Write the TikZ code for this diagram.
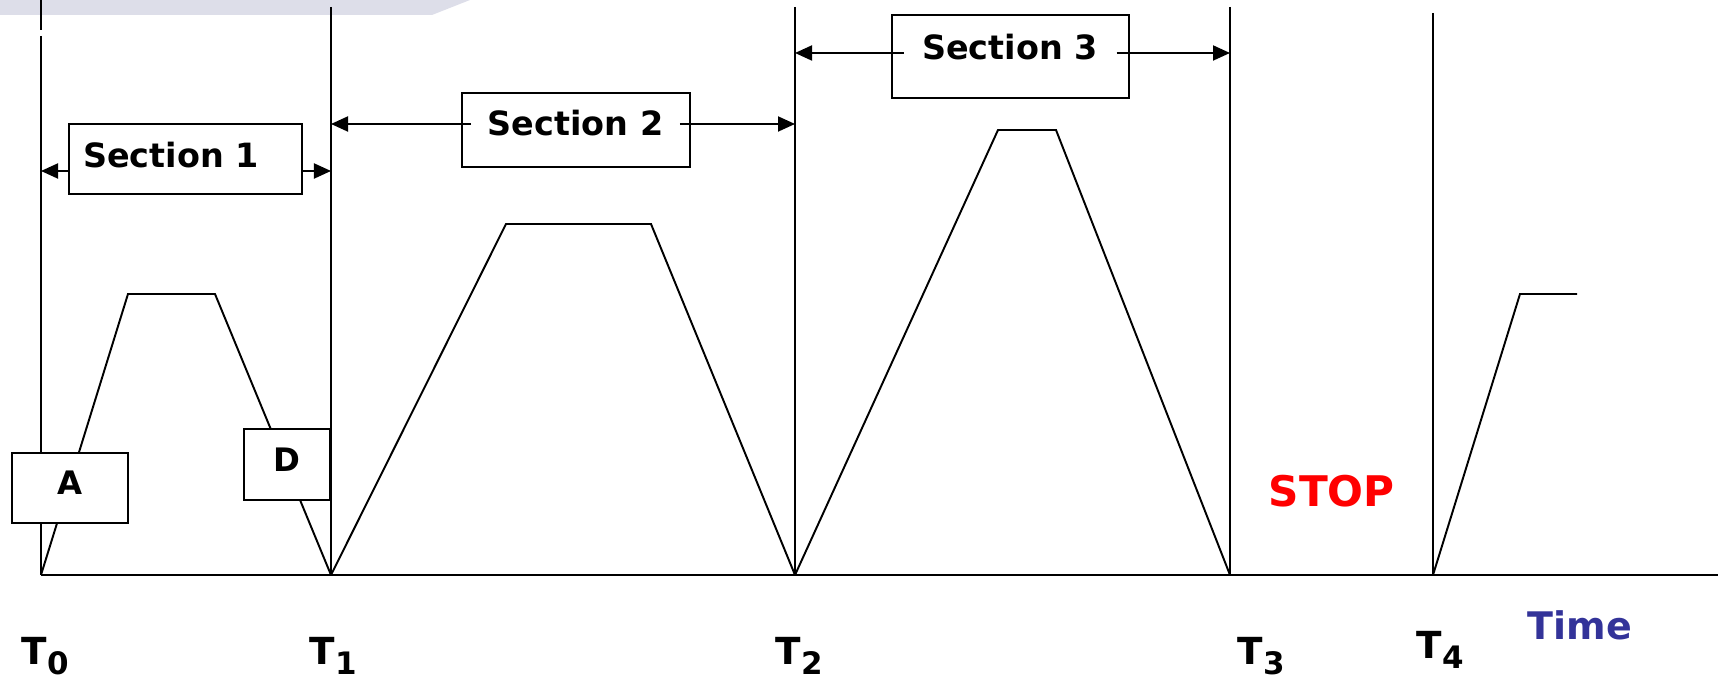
\documentclass[tikz,border=0pt]{standalone}
\usepackage{fontspec}
\setmainfont{DejaVu Sans}
\usetikzlibrary{arrows.meta}

\definecolor{bandgray}{RGB}{221,222,233}
\definecolor{timeblue}{RGB}{51,51,153}
\newcommand\tlabel[1]{T\raisebox{-2.6pt}{\fontsize{8.8}{8.8}\selectfont #1}}

\begin{document}
\begin{tikzpicture}[
  x=0.01cm, y=-0.01cm,
  every node/.style={font=\bfseries, inner sep=0pt},
  axis/.style={line width=.55pt},
  ramp/.style={line width=.55pt, line join=miter},
  frame/.style={draw, line width=.55pt, fill=white},
  secname/.style={font=\fontsize{9.5}{9.5}\bfseries},
  tick/.style={font=\fontsize{10.6}{10.6}\bfseries, anchor=base west},
  tip/.style={-{Triangle[length=1.7mm,width=1.5mm]}, line width=.55pt}
]
\useasboundingbox (0,0) rectangle (1718,677);
\fill[bandgray] (0,0) -- (470,0) -- (432,15) -- (0,15) -- cycle;

% time instants
\coordinate (t0) at (41,575);
\coordinate (t1) at (331,575);
\coordinate (t2) at (795,575);
\coordinate (t3) at (1230,575);
\coordinate (t4) at (1433,575);
\coordinate (tend) at (1718,575);
\coordinate (t0top) at (41,0);
\coordinate (t0gapa) at (41,30);
\coordinate (t0gapb) at (41,36);
\coordinate (t1top) at (331,7);
\coordinate (t2top) at (795,7);
\coordinate (t3top) at (1230,7);
\coordinate (t4top) at (1433,13);

\draw[axis] (t0) -- (tend);
\draw[axis] (t0top) -- (t0gapa) (t0gapb) -- (t0);
\draw[axis] (t1top) -- (t1) (t2top) -- (t2) (t3top) -- (t3) (t4top) -- (t4);

% speed profiles
\coordinate (p1a) at (128,294);
\coordinate (p1b) at (215,294);
\coordinate (p2a) at (506,224);
\coordinate (p2b) at (651,224);
\coordinate (p3a) at (998,130);
\coordinate (p3b) at (1056,130);
\coordinate (p4a) at (1520,294);
\coordinate (p4b) at (1577,294);
\draw[ramp] (t0) -- (p1a) -- (p1b) -- (t1);
\draw[ramp] (t1) -- (p2a) -- (p2b) -- (t2);
\draw[ramp] (t2) -- (p3a) -- (p3b) -- (t3);
\draw[ramp] (t4) -- (p4a) -- (p4b);

\node[frame, minimum width=1.16cm, minimum height=.70cm,
      text depth=1mm, font=\fontsize{9.2}{9.2}\bfseries] (acc) at (70,488) {A};
\node[frame, minimum width=.86cm, minimum height=.71cm,
      text depth=1mm, font=\fontsize{9.2}{9.2}\bfseries] (dec) at (287,464.5) {D};

% sections
\node[frame, minimum width=2.33cm, minimum height=.70cm] (box1) at (185.5,159) {};
\node[frame, minimum width=2.28cm, minimum height=.74cm] (box2) at (576,130) {};
\node[frame, minimum width=2.37cm, minimum height=.83cm] (box3) at (1010.5,56.5) {};
\node[secname] (sec1) at (171,155) {Section 1};
\node[secname, inner xsep=1.6mm] (sec2) at (575.5,123) {Section 2};
\node[secname, inner xsep=1.8mm] (sec3) at (1010,47) {Section 3};

\coordinate (s1l) at (41,171);
\coordinate (s1r) at (331,171);
\coordinate (s2l) at (331,124);
\coordinate (s2r) at (795,124);
\coordinate (s3l) at (795,53);
\coordinate (s3r) at (1230,53);
\draw[tip] (box1.west |- s1l) -- (s1l);
\draw[tip] (box1.east |- s1r) -- (s1r);
\draw[tip] (sec2.west |- s2l) -- (s2l);
\draw[tip] (sec2.east |- s2r) -- (s2r);
\draw[tip] (sec3.west |- s3l) -- (s3l);
\draw[tip] (sec3.east |- s3r) -- (s3r);

% labels
\node[tick] (lt0) at (21,665) {\tlabel{0}};
\node[tick] (lt1) at (309,665) {\tlabel{1}};
\node[tick] (lt2) at (775,665) {\tlabel{2}};
\node[tick] (lt3) at (1237,665) {\tlabel{3}};
\node[tick] (lt4) at (1416,659) {\tlabel{4}};
\node[anchor=base west, font=\fontsize{10.8}{10.8}\bfseries, text=timeblue]
  (time) at (1527,640) {Time};
\node[anchor=base west, font=\fontsize{12}{12}\bfseries, text=red]
  (stop) at (1268,507) {STOP};
\end{tikzpicture}
\end{document}
